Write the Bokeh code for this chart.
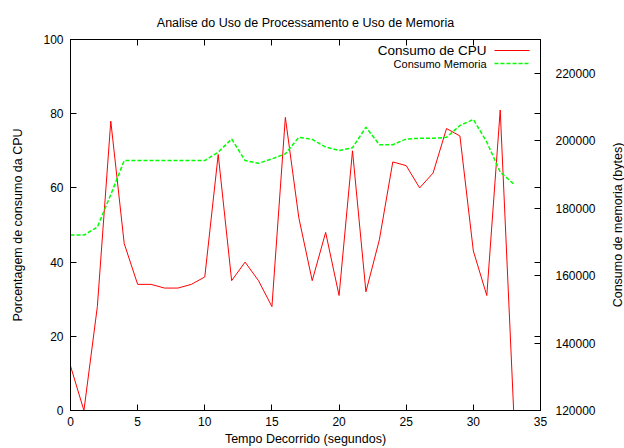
import math
from bokeh.plotting import figure
from bokeh.layouts import row
from bokeh.models import LinearAxis, Range1d, FixedTicker, Label, Arrow, BasicTickFormatter, Title
from bokeh.embed import file_html
from bokeh.resources import INLINE

# ---- data ----
tempo = list(range(34))
cpu = [12, 0, 28, 78, 45, 34, 34, 33, 33, 34, 36, 69, 35, 40, 35, 28, 79, 52,
       35, 48, 31, 70, 32, 46, 67, 66, 60, 64, 76, 74, 43, 31, 81, 0]
mem = [172000, 172000, 174400, 184000, 194100, 194100, 194100, 194100, 194100,
       194100, 194100, 196600, 200500, 194100, 193300, 194600, 196100, 201000,
       200400, 198100, 197100, 197900, 204000, 198800, 198800, 200500, 200700,
       200700, 201000, 204500, 206300, 199600, 190700, 187200]

x_ticks = [0, 5, 10, 15, 20, 25, 30, 35]
cpu_ticks = [0, 20, 40, 60, 80, 100]
mem_ticks = [120000, 140000, 160000, 180000, 200000, 220000]

title_text = "Analise do Uso de Processamento e Uso de Memoria"
x_label = "Tempo Decorrido (segundos)"
y_label = "Porcentagem de consumo da CPU"
y2_label = "Consumo de memoria (bytes)"
cpu_name = "Consumo de CPU"
mem_name = "Consumo Memoria"

FONT = "Liberation Sans"

p = figure(width=608, height=448, x_range=Range1d(0, 35), y_range=Range1d(0, 100),
           output_backend="svg", toolbar_location=None,
           min_border_left=70, min_border_right=68, min_border_top=39, min_border_bottom=38)
p.extra_y_ranges = {"mem": Range1d(120000, 230000)}
p.xgrid.visible = False
p.ygrid.visible = False
p.outline_line_color = "black"
p.outline_line_width = 1
p.background_fill_color = "white"
p.border_fill_color = "white"

p.title.text = title_text
p.title.align = "center"
p.title.text_font = FONT
p.title.text_font_style = "normal"
p.title.text_font_size = "12.5px"
p.title.text_color = "black"
p.title.standoff = 20


def style_axis(ax, size="12px"):
    ax.major_tick_in = 6
    ax.major_tick_out = 0
    ax.minor_tick_line_color = None
    ax.axis_line_color = "black"
    ax.major_tick_line_color = "black"
    ax.major_label_text_font = FONT
    ax.major_label_text_font_size = size
    ax.major_label_text_color = "black"
    ax.axis_label_text_font = FONT
    ax.axis_label_text_font_size = "12.5px"
    ax.axis_label_text_font_style = "normal"
    ax.axis_label_text_color = "black"


def tick_only(ax):
    ax.major_label_text_font_size = "0px"
    ax.major_label_text_color = None
    ax.major_label_standoff = 0


xa = p.xaxis[0]
xa.ticker = FixedTicker(ticks=x_ticks)
style_axis(xa)
xa.axis_label = x_label
xa.major_label_standoff = 6
xa.axis_label_standoff = 3

ya = p.yaxis[0]
ya.ticker = FixedTicker(ticks=cpu_ticks)
style_axis(ya)
ya.axis_label = y_label
ya.major_label_standoff = 7
ya.axis_label_standoff = 15

# mirrored ticks on top
top = LinearAxis(ticker=FixedTicker(ticks=x_ticks))
style_axis(top)
tick_only(top)
p.add_layout(top, "above")

# mirrored CPU ticks on the right (inner), then the memory axis
mirror_ax = LinearAxis(ticker=FixedTicker(ticks=cpu_ticks))
style_axis(mirror_ax)
tick_only(mirror_ax)
p.add_layout(mirror_ax, "right")

ax2 = LinearAxis(y_range_name="mem", ticker=FixedTicker(ticks=mem_ticks),
                 formatter=BasicTickFormatter(use_scientific=False))
style_axis(ax2)
ax2.major_label_standoff = 15
p.add_layout(ax2, "right")

p.line(tempo, cpu, line_color="#ff0000", line_width=1)
p.line(tempo, mem, y_range_name="mem", line_color="#00ff00", line_width=1.5, line_dash="4 2")

# legend (gnuplot style: text then sample)
p.add_layout(Label(x=416, y=360, x_units="screen", y_units="screen", text=cpu_name,
                   text_align="right", text_baseline="middle", text_font=FONT,
                   text_font_size="13.5px", text_color="black"))
p.add_layout(Label(x=416, y=347, x_units="screen", y_units="screen", text=mem_name,
                   text_align="right", text_baseline="middle", text_font=FONT,
                   text_font_size="11px", text_color="black"))
p.add_layout(Arrow(x_start=424, y_start=360, x_end=459, y_end=360, start_units="screen",
                   end_units="screen", end=None, line_color="#ff0000", line_width=1))
p.add_layout(Arrow(x_start=424, y_start=347, x_end=459, y_end=347, start_units="screen",
                   end_units="screen", end=None, line_color="#00ff00", line_width=1.5,
                   line_dash="4 2"))

# narrow strip holding the right-hand axis title, read bottom-to-top
side = figure(width=16, height=448, output_backend="svg", toolbar_location=None,
              x_axis_location=None, y_axis_location=None,
              min_border_left=0, min_border_right=0, min_border_top=39, min_border_bottom=38)
side.outline_line_color = None
side.background_fill_color = "white"
side.border_fill_color = "white"
side.title.text = ""
side.add_layout(Title(text=y2_label, align="center", standoff=0, text_font=FONT,
                      text_font_style="normal", text_font_size="12.5px",
                      text_color="black"), "left")

layout = row(p, side)
open("out.html", "w").write(file_html(layout, INLINE))
